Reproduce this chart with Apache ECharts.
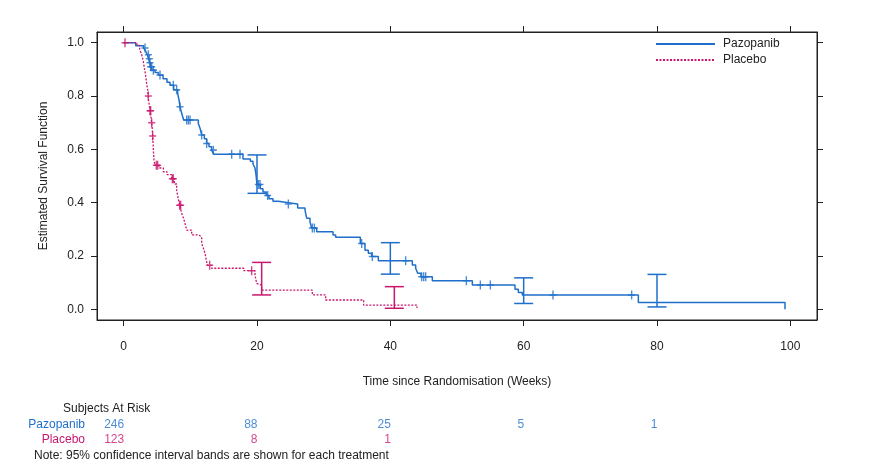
<!DOCTYPE html>
<html>
<head>
<meta charset="utf-8">
<script src="https://cdn.jsdelivr.net/npm/echarts@6/dist/echarts.min.js"></script>
<style>
html,body{margin:0;padding:0;background:#fff;}
#chart{width:871px;height:469px;}
</style>
</head>
<body>
<div id="chart"></div>
<script>
// ---------- data ----------
const xTicks = [0, 20, 40, 60, 80, 100];
const yTicks = [0, 0.2, 0.4, 0.6, 0.8, 1.0];

// Kaplan-Meier steps: [week, survival after that week]
const pazopanibSteps = [
  [0,1.0],[1.8,0.988],[3.0,0.98],[3.3,0.968],[3.55,0.955],[3.75,0.94],[3.9,0.925],[4.05,0.91],
  [4.3,0.897],[4.7,0.888],[5.2,0.879],[5.9,0.865],[6.5,0.852],[6.95,0.84],[7.5,0.823],[8.1,0.81],
  [8.3,0.785],[8.45,0.76],[8.7,0.735],[9.0,0.71],[11.2,0.697],[11.5,0.675],[11.7,0.654],[12.1,0.64],
  [12.45,0.622],[12.8,0.61],[13.2,0.597],[13.5,0.582],[17.9,0.564],[19.0,0.555],[19.4,0.545],
  [19.7,0.53],[19.85,0.505],[20.0,0.468],[20.5,0.452],[20.9,0.44],[21.4,0.427],[21.8,0.415],
  [22.4,0.405],[23.2,0.40],[24.7,0.395],[26.1,0.38],[27.2,0.372],[27.45,0.342],[27.95,0.327],
  [28.2,0.305],[28.95,0.291],[31.4,0.279],[31.8,0.27],[35.5,0.247],[36.2,0.222],[36.7,0.21],
  [37.2,0.198],[38.2,0.182],[43.3,0.166],[43.8,0.154],[44.1,0.135],[44.6,0.122],[46.3,0.107],
  [52.3,0.091],[58.7,0.075],[59.2,0.063],[59.8,0.054],[77.2,0.026],[99.2,0]
];
const placeboSteps = [
  [0,1.0],[2.0,0.99],[2.4,0.975],[2.7,0.955],[2.95,0.93],[3.1,0.905],[3.25,0.885],[3.35,0.865],
  [3.45,0.845],[3.6,0.825],[3.65,0.80],[3.75,0.78],[3.85,0.765],[3.95,0.745],[4.1,0.72],[4.2,0.70],
  [4.3,0.675],[4.35,0.65],[4.42,0.62],[4.47,0.59],[4.55,0.56],[4.7,0.54],[5.3,0.53],[5.95,0.516],
  [6.5,0.505],[7.2,0.49],[7.6,0.47],[7.95,0.447],[8.15,0.42],[8.4,0.39],[8.7,0.36],[9.0,0.34],
  [9.2,0.322],[9.45,0.297],[10.2,0.279],[11.2,0.272],[11.7,0.247],[11.95,0.23],[12.2,0.21],
  [12.45,0.178],[12.6,0.165],[13.2,0.154],[18.0,0.145],[19.7,0.129],[19.95,0.097],[20.2,0.091],
  [20.7,0.072],[28.3,0.054],[30.3,0.035],[36.0,0.016],[44.0,0.005]
];

// censoring times (weeks)
const pazopanibCensor = [3.2,3.7,3.85,3.95,4.05,4.2,4.45,5.45,7.45,7.95,8.45,9.45,9.7,9.95,11.7,
  12.45,13.45,16.2,17.45,20.2,20.45,21.6,24.7,28.3,28.6,35.7,37.3,42.3,44.7,45.0,45.3,51.4,53.5,
  55.0,64.4,76.2];
const placeboCensor = [0.2,3.7,3.95,4.05,4.2,4.35,4.9,5.1,7.3,7.45,8.4,8.55,12.9,19.2];

// 95% CI bars: [week, lower, upper]
const pazopanibCI = [[20.0,0.435,0.579],[40.0,0.132,0.25],[60.0,0.022,0.118],[80.0,0.009,0.131]];
const placeboCI = [[20.7,0.054,0.176],[40.6,0.004,0.085]];

// subjects at risk
const riskWeeks = [0, 20, 40, 60, 80];
const pazopanibRisk = [246, 88, 25, 5, 1];
const placeboRisk = [123, 8, 1];

// ---------- styling ----------
const BLUE = '#1f6fca';
const PINK = '#c9176e';
const TXT = '#222';
const FONT = 'Liberation Sans, Arial, sans-serif';

function survAt(steps, t) {
  let s = steps[0][1];
  for (const [tt, v] of steps) { if (tt <= t) s = v; else break; }
  return s;
}
const plusPath = 'path://M-0.2,-1H0.2V-0.17H1V0.17H0.2V1H-0.2V0.17H-1V-0.17H-0.2Z';

function ciSeries(name, data, color) {
  return {
    type: 'custom', name: name, xAxisIndex: 0, yAxisIndex: 0, z: 4,
    data: data, encode: { x: 0, y: [1, 2] },
    renderItem: function (params, api) {
      const x = api.value(0);
      const lo = api.coord([x, api.value(1)]);
      const hi = api.coord([x, api.value(2)]);
      const w = 9.5;
      const st = { stroke: color, lineWidth: 1.5, fill: null };
      return { type: 'group', children: [
        { type: 'line', shape: { x1: lo[0], y1: lo[1], x2: hi[0], y2: hi[1] }, style: st },
        { type: 'line', shape: { x1: lo[0] - w, y1: lo[1], x2: lo[0] + w, y2: lo[1] }, style: st },
        { type: 'line', shape: { x1: hi[0] - w, y1: hi[1], x2: hi[0] + w, y2: hi[1] }, style: st }
      ]};
    }
  };
}

const chart = echarts.init(document.getElementById('chart'), null, { renderer: 'canvas' });

const axisTxt = { color: TXT, fontSize: 12, fontFamily: FONT };

chart.setOption({
  backgroundColor: '#fff',
  animation: false,
  textStyle: { fontFamily: FONT },
  grid: [
    { left: 97, right: 54, top: 32, bottom: 149, show: true, borderColor: '#222', borderWidth: 1, backgroundColor: 'transparent' },
    { left: 97, right: 54, top: 417.5, height: 30, show: false }
  ],
  legend: {
    data: ['Pazopanib', 'Placebo'],
    orient: 'vertical', left: 650, top: 33,
    itemWidth: 59, itemHeight: 10, itemGap: 4,
    itemStyle: { opacity: 0 },
    textStyle: { color: TXT, fontSize: 12, fontFamily: FONT, padding: [0, 0, 0, 3] },
    selectedMode: false
  },
  xAxis: [
    { type: 'value', gridIndex: 0, min: -4, max: 104, position: 'bottom',
      name: 'Time since Randomisation (Weeks)', nameLocation: 'middle', nameGap: 56,
      nameTextStyle: axisTxt,
      axisLine: { show: true, onZero: false, lineStyle: { color: '#222', width: 1 } },
      axisTick: { show: true, inside: false, length: 6, customValues: xTicks, lineStyle: { color: '#222' } },
      axisLabel: { show: true, margin: 21, customValues: xTicks, ...axisTxt },
      splitLine: { show: false } },
    { type: 'value', gridIndex: 0, min: -4, max: 104, position: 'top',
      axisLine: { show: true, onZero: false, lineStyle: { color: '#222', width: 1 } },
      axisTick: { show: true, inside: false, length: 6, customValues: xTicks, lineStyle: { color: '#222' } },
      axisLabel: { show: false }, splitLine: { show: false } },
    { type: 'value', gridIndex: 1, min: -4, max: 104, show: false }
  ],
  yAxis: [
    { type: 'value', gridIndex: 0, min: -0.04, max: 1.04, position: 'left',
      name: 'Estimated Survival Function', nameLocation: 'middle', nameGap: 47, nameRotate: 90,
      nameTextStyle: axisTxt,
      axisLine: { show: true, onZero: false, lineStyle: { color: '#222', width: 1 } },
      axisTick: { show: true, inside: false, length: 6, customValues: yTicks, lineStyle: { color: '#222' } },
      axisLabel: { show: true, margin: 13, customValues: yTicks, formatter: v => v.toFixed(1), ...axisTxt },
      splitLine: { show: false } },
    { type: 'value', gridIndex: 0, min: -0.04, max: 1.04, position: 'right',
      axisLine: { show: true, onZero: false, lineStyle: { color: '#222', width: 1 } },
      axisTick: { show: true, inside: false, length: 6, customValues: yTicks, lineStyle: { color: '#222' } },
      axisLabel: { show: false }, splitLine: { show: false } },
    { type: 'category', gridIndex: 1, data: ['Pazopanib', 'Placebo'], inverse: true,
      axisLine: { show: false }, axisTick: { show: false }, splitLine: { show: false },
      axisLabel: { show: true, interval: 0, margin: 12, fontSize: 12, fontFamily: FONT,
        formatter: v => '{' + (v === 'Pazopanib' ? 'b' : 'p') + '|' + v + '}',
        rich: { b: { color: BLUE, fontSize: 12, fontFamily: FONT }, p: { color: PINK, fontSize: 12, fontFamily: FONT } } } }
  ],
  graphic: [
    { type: 'text', left: 63, top: 403, style: { text: 'Subjects At Risk', fill: TXT, fontSize: 12, fontFamily: FONT } },
    { type: 'text', left: 34, top: 450, style: { text: 'Note: 95% confidence interval bands are shown for each treatment', fill: TXT, fontSize: 12, fontFamily: FONT } }
  ],
  series: [
    { name: 'Pazopanib', type: 'line', step: 'end', xAxisIndex: 0, yAxisIndex: 0, z: 3,
      data: pazopanibSteps, symbol: 'none', showSymbol: false, color: BLUE,
      lineStyle: { color: BLUE, width: 1.5 } },
    { name: 'Placebo', type: 'line', step: 'end', xAxisIndex: 0, yAxisIndex: 0, z: 3,
      data: placeboSteps, symbol: 'none', showSymbol: false, color: PINK,
      lineStyle: { color: PINK, width: 1.3, type: [2, 1.5] } },
    { name: 'PazCensor', type: 'scatter', xAxisIndex: 0, yAxisIndex: 0, z: 5,
      symbol: plusPath, symbolSize: [7, 9], symbolKeepAspect: false,
      itemStyle: { color: BLUE },
      data: pazopanibCensor.map(t => [t, survAt(pazopanibSteps, t)]) },
    { name: 'PlaCensor', type: 'scatter', xAxisIndex: 0, yAxisIndex: 0, z: 5,
      symbol: plusPath, symbolSize: [7, 9], symbolKeepAspect: false,
      itemStyle: { color: PINK },
      data: placeboCensor.map(t => [t, survAt(placeboSteps, t)]) },
    ciSeries('PazCI', pazopanibCI, BLUE),
    ciSeries('PlaCI', placeboCI, PINK),
    { name: 'PazRisk', type: 'scatter', xAxisIndex: 2, yAxisIndex: 2, symbolSize: 1,
      itemStyle: { color: 'transparent' },
      label: { show: true, position: 'left', distance: -1, color: BLUE, fontSize: 12, fontFamily: FONT,
        formatter: p => String(p.value[2]) },
      data: riskWeeks.map((w, i) => [w, 0, pazopanibRisk[i]]) },
    { name: 'PlaRisk', type: 'scatter', xAxisIndex: 2, yAxisIndex: 2, symbolSize: 1,
      itemStyle: { color: 'transparent' },
      label: { show: true, position: 'left', distance: -1, color: PINK, fontSize: 12, fontFamily: FONT,
        formatter: p => String(p.value[2]) },
      data: placeboRisk.map((n, i) => [riskWeeks[i], 1, n]) }
  ]
});
</script>
</body>
</html>
